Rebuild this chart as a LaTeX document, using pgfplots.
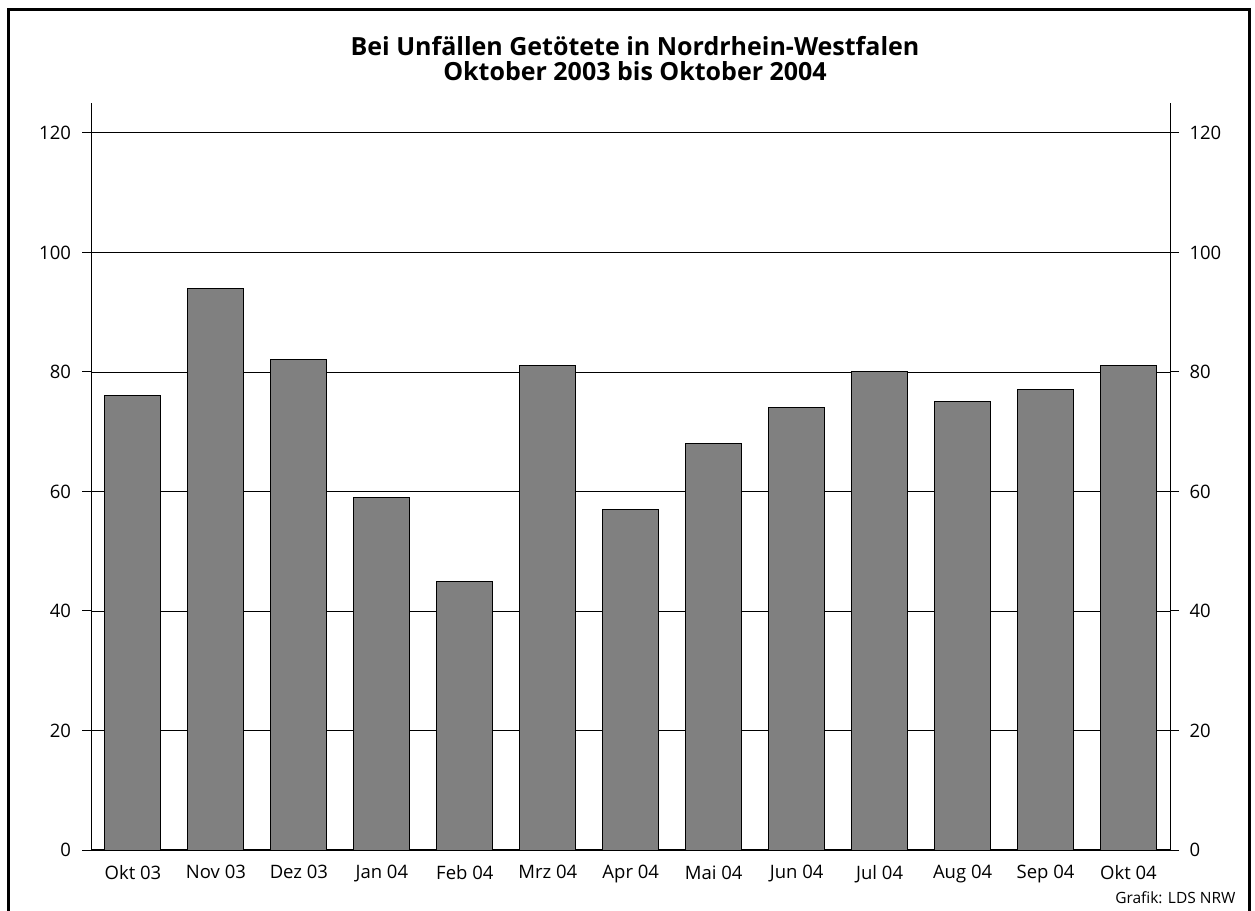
\documentclass[border=0pt]{standalone}
\usepackage{fontspec}
\setmainfont{Open Sans}
\usepackage{pgfplots}
\pgfplotsset{compat=1.18}
\definecolor{bargray}{RGB}{128,128,128}
\begin{document}
\begin{tikzpicture}[x=1pt,y=1pt]
\useasboundingbox (0,0) rectangle (1255,910);
\draw[line width=2.6pt] (8.7,-5) -- (8.7,900.5) -- (1249.5,900.5) -- (1249.5,-5);
\begin{axis}[
  at={(91.5pt,60pt)}, anchor=south west,
  scale only axis, width=1078.5pt, height=747pt,
  xmin=-0.5, xmax=12.5, ymin=0, ymax=125,
  ybar, bar width=56pt,
  axis x line*=bottom, axis y line*=left,
  axis line style={-, black},
  x axis line style={line width=1.6pt},
  y axis line style={line width=1pt},
  xtick={0,...,12},
  xticklabels={Okt 03,Nov 03,Dez 03,Jan 04,Feb 04,Mrz 04,Apr 04,Mai 04,Jun 04,Jul 04,Aug 04,Sep 04,Okt 04},
  x tick style={draw=none},
  ytick={0,20,...,120},
  y tick style={black, line width=1pt},
  tick align=outside, major tick length=9pt,
  ymajorgrids, grid style={black, line width=0.8pt},
  /pgf/number format/assume math mode=true,
  tick label style={font=\fontsize{18.5}{22}\selectfont},
  yticklabel style={xshift=-8pt},
  xticklabel style={yshift=-3pt},
]
\addplot[fill=bargray, draw=black, line width=1pt] coordinates {
(0,76) (1,94) (2,82) (3,59) (4,45) (5,81) (6,57) (7,68) (8,74) (9,80) (10,75) (11,77) (12,81)};
\end{axis}
\begin{axis}[
  at={(91.5pt,60pt)}, anchor=south west,
  scale only axis, width=1078.5pt, height=747pt,
  xmin=-0.5, xmax=12.5, ymin=0, ymax=125,
  axis y line*=right, axis x line=none,
  axis line style={-, black, line width=1pt},
  ytick={0,20,...,120},
  y tick style={black, line width=1pt},
  tick align=outside, major tick length=9pt,
  /pgf/number format/assume math mode=true,
  tick label style={font=\fontsize{18.5}{22}\selectfont},
  yticklabel style={xshift=7pt},
]
\addplot[draw=none] coordinates {(0,0)};
\end{axis}
\node[font=\bfseries\fontsize{25}{25}\selectfont, align=center] at (635,851)
  {Bei Unfällen Getötete in Nordrhein-Westfalen\\Oktober 2003 bis Oktober 2004};
\node[font=\fontsize{15.5}{18}\selectfont, anchor=east] at (1239,12) {Grafik: LDS NRW};
\end{tikzpicture}
\end{document}
